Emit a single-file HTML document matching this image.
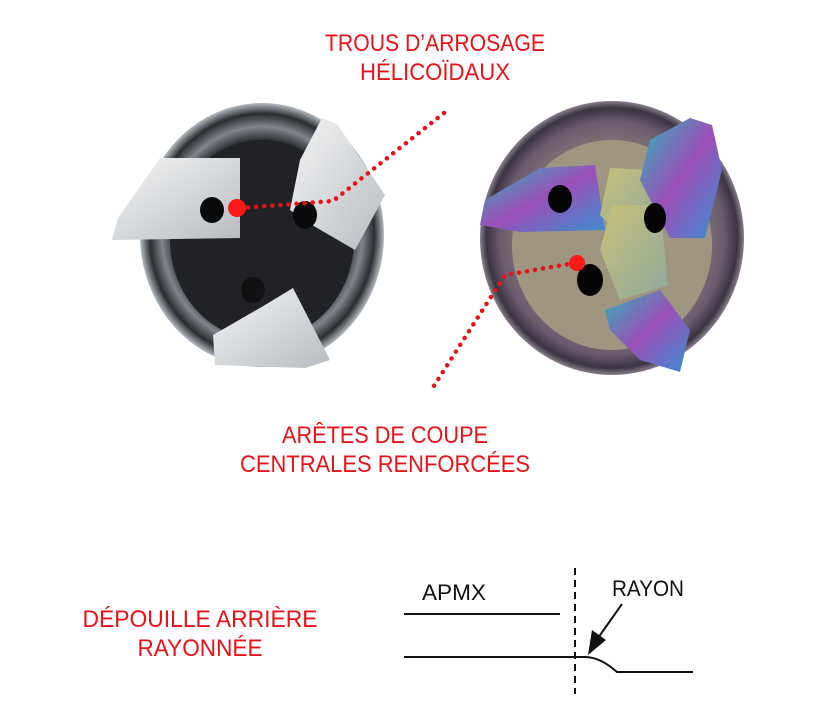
<!DOCTYPE html>
<html><head><meta charset="utf-8"><style>
html,body{margin:0;padding:0;background:#fff}
svg{display:block}
text{font-family:"Liberation Sans",sans-serif}
.r{fill:#e3141b;font-size:24px}
</style></head><body>
<svg width="840" height="724" viewBox="0 0 840 724" xmlns="http://www.w3.org/2000/svg">
<defs>
<radialGradient id="lg" cx="50%" cy="50%" r="50%"><stop offset="0" stop-color="#3a3d42"/><stop offset="0.7" stop-color="#1c1e22"/><stop offset="0.82" stop-color="#80868c"/><stop offset="0.92" stop-color="#2a2c30"/><stop offset="1" stop-color="#b5bbc1"/></radialGradient>
<linearGradient id="bl" x1="0" y1="0" x2="1" y2="1"><stop offset="0" stop-color="#f4f5f6"/><stop offset="1" stop-color="#b8bcc0"/></linearGradient>
<radialGradient id="rg" cx="50%" cy="50%" r="50%"><stop offset="0" stop-color="#b6b08e"/><stop offset="0.6" stop-color="#8a7f78"/><stop offset="0.85" stop-color="#6a5b6e"/><stop offset="0.95" stop-color="#3a3340"/><stop offset="1" stop-color="#8a7f8c"/></radialGradient>
<linearGradient id="ir" x1="0" y1="0" x2="1" y2="1"><stop offset="0" stop-color="#2fb4b8"/><stop offset="0.5" stop-color="#9a4fb8"/><stop offset="1" stop-color="#3a8fd0"/></linearGradient>
<linearGradient id="gd" x1="0" y1="0" x2="1" y2="1"><stop offset="0" stop-color="#c9c27a"/><stop offset="1" stop-color="#8fa89a"/></linearGradient>
</defs>
<ellipse cx="262" cy="235" rx="122" ry="132" fill="url(#lg)"/>
<ellipse cx="262" cy="240" rx="92" ry="100" fill="#202226"/>
<polygon points="160,158 240,158 240,238 112,240 118,218" fill="url(#bl)"/>
<polygon points="322,118 337,124 385,195 355,250 312,225 290,210 300,160" fill="url(#bl)"/>
<polygon points="213,335 265,305 293,288 330,360 305,368 215,365" fill="url(#bl)"/>
<ellipse cx="212" cy="210" rx="12" ry="13" fill="#0a0a0a"/>
<ellipse cx="305" cy="215" rx="12" ry="14" fill="#0a0a0a"/>
<ellipse cx="253" cy="290" rx="12" ry="13" fill="#111"/>
<ellipse cx="612" cy="238" rx="132" ry="137" fill="url(#rg)"/>
<ellipse cx="612" cy="245" rx="100" ry="105" fill="#9e9680"/>
<polygon points="540,168 595,165 605,230 520,232 480,225 485,200" fill="url(#ir)"/>
<polygon points="610,168 650,170 658,205 620,235 600,215" fill="url(#gd)"/>
<polygon points="650,140 690,118 712,125 722,170 705,238 670,238 640,180" fill="url(#ir)"/>
<polygon points="612,205 660,205 668,285 620,300 600,250" fill="url(#gd)"/>
<polygon points="605,310 660,290 690,330 680,372 640,360 610,330" fill="url(#ir)"/>
<ellipse cx="560" cy="199" rx="12" ry="14" fill="#050505"/>
<ellipse cx="655" cy="218" rx="11" ry="15" fill="#050505"/>
<ellipse cx="590" cy="280" rx="13" ry="16" fill="#050505"/>
<g stroke="#e3141b" stroke-width="4.5" stroke-linecap="round" stroke-dasharray="0.1 8" fill="none">
<polyline points="444,113 333,201 240,208"/>
<polyline points="575,263 505,275 430,392"/>
</g>
<circle cx="237" cy="208" r="9" fill="#ff1a1a"/>
<circle cx="577" cy="263" r="8" fill="#ff1a1a"/>
<text class="r" x="435" y="51" text-anchor="middle" textLength="220" lengthAdjust="spacingAndGlyphs">TROUS D’ARROSAGE</text>
<text class="r" x="435" y="80" text-anchor="middle" textLength="150" lengthAdjust="spacingAndGlyphs">HÉLICOÏDAUX</text>
<text class="r" x="385" y="443" text-anchor="middle" textLength="206" lengthAdjust="spacingAndGlyphs">ARÊTES DE COUPE</text>
<text class="r" x="385" y="472" text-anchor="middle" textLength="290" lengthAdjust="spacingAndGlyphs">CENTRALES RENFORCÉES</text>
<text class="r" x="200" y="627" text-anchor="middle" textLength="235" lengthAdjust="spacingAndGlyphs">DÉPOUILLE ARRIÈRE</text>
<text class="r" x="200" y="656" text-anchor="middle" textLength="125" lengthAdjust="spacingAndGlyphs">RAYONNÉE</text>
<text x="422" y="600" font-size="22" fill="#111" textLength="64" lengthAdjust="spacingAndGlyphs">APMX</text>
<text x="612" y="596" font-size="22" fill="#111" textLength="72" lengthAdjust="spacingAndGlyphs">RAYON</text>
<g stroke="#111" stroke-width="2" fill="none">
<line x1="404" y1="614" x2="560" y2="614"/>
<path d="M404 657 L585 657 Q600 657 617 672 L693 672"/>
<line x1="575" y1="568" x2="575" y2="694" stroke-dasharray="7 5"/>
<line x1="622" y1="604" x2="598" y2="638"/>
</g>
<polygon points="588,655 592,630 606,640" fill="#111"/>
</svg>
</body></html>
